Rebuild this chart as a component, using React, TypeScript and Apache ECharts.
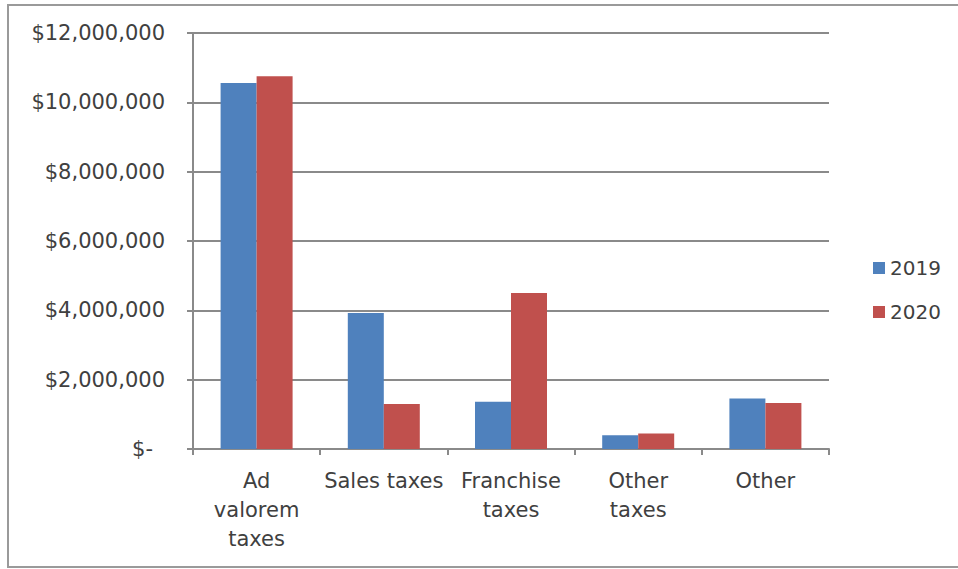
import React, { useEffect, useRef } from "react";
import * as echarts from "echarts";

const categories = ["Ad valorem taxes", "Sales taxes", "Franchise taxes", "Other taxes", "Other"];
const categoryLabels = ["Ad\nvalorem\ntaxes", "Sales taxes", "Franchise\ntaxes", "Other\ntaxes", "Other"];
const series2019 = [10560000, 3920000, 1360000, 400000, 1460000];
const series2020 = [10750000, 1300000, 4500000, 450000, 1330000];
const seriesNames = ["2019", "2020"];

const FONT = "'DejaVu Sans', sans-serif";
const TEXT = "#404040";
const AXIS = "#8a8a8a";

function fmtMoney(v: number): string {
  if (v === 0) return "{z|$-}";
  return "$" + v.toLocaleString("en-US");
}

export default function App() {
  const ref = useRef<HTMLDivElement>(null);
  useEffect(() => {
    document.body.style.margin = "0";
    const chart = echarts.init(ref.current!, null, { renderer: "svg" });
    chart.setOption({
      animation: false,
      backgroundColor: "#ffffff",
      textStyle: { fontFamily: FONT },
      graphic: [
        {
          type: "rect",
          shape: { x: 8, y: 5, width: 960, height: 562 },
          style: { fill: "none", stroke: "#9a9a9a", lineWidth: 2 },
          silent: true,
        },
      ],
      grid: { left: 193, right: 129, top: 33, bottom: 120, containLabel: false },
      legend: {
        orient: "vertical",
        left: 868,
        top: 253,
        itemWidth: 12,
        itemHeight: 12,
        itemGap: 24,
        icon: "rect",
        textStyle: { fontFamily: FONT, fontSize: 20, color: TEXT, lineHeight: 20 },
        data: seriesNames,
      },
      xAxis: {
        type: "category",
        data: categories,
        axisLine: { lineStyle: { color: AXIS, width: 2 } },
        axisTick: { show: true, length: 6, lineStyle: { color: AXIS, width: 2 } },
        axisLabel: {
          interval: 0,
          margin: 17,
          fontFamily: FONT,
          fontSize: 21,
          color: TEXT,
          lineHeight: 29,
          formatter: (v: string) => categoryLabels[categories.indexOf(v)],
        },
      },
      yAxis: {
        type: "value",
        min: 0,
        max: 12000000,
        interval: 2000000,
        axisLine: { show: true, lineStyle: { color: AXIS, width: 2 } },
        axisTick: { show: true, length: 6, lineStyle: { color: AXIS, width: 2 } },
        splitLine: { lineStyle: { color: AXIS, width: 2 } },
        axisLabel: {
          margin: 28,
          fontFamily: FONT,
          fontSize: 21,
          color: TEXT,
          formatter: fmtMoney,
          rich: { z: { fontFamily: FONT, fontSize: 21, color: TEXT, padding: [0, 12, 0, 0] } },
        },
      },
      series: [
        {
          name: seriesNames[0],
          type: "bar",
          data: series2019,
          barWidth: 36,
          barGap: "0%",
          itemStyle: { color: "#4F81BD" },
        },
        {
          name: seriesNames[1],
          type: "bar",
          data: series2020,
          barWidth: 36,
          barGap: "0%",
          itemStyle: { color: "#C0504D" },
        },
      ],
    });
    return () => chart.dispose();
  }, []);
  return <div ref={ref} style={{ width: 958, height: 569 }} />;
}
